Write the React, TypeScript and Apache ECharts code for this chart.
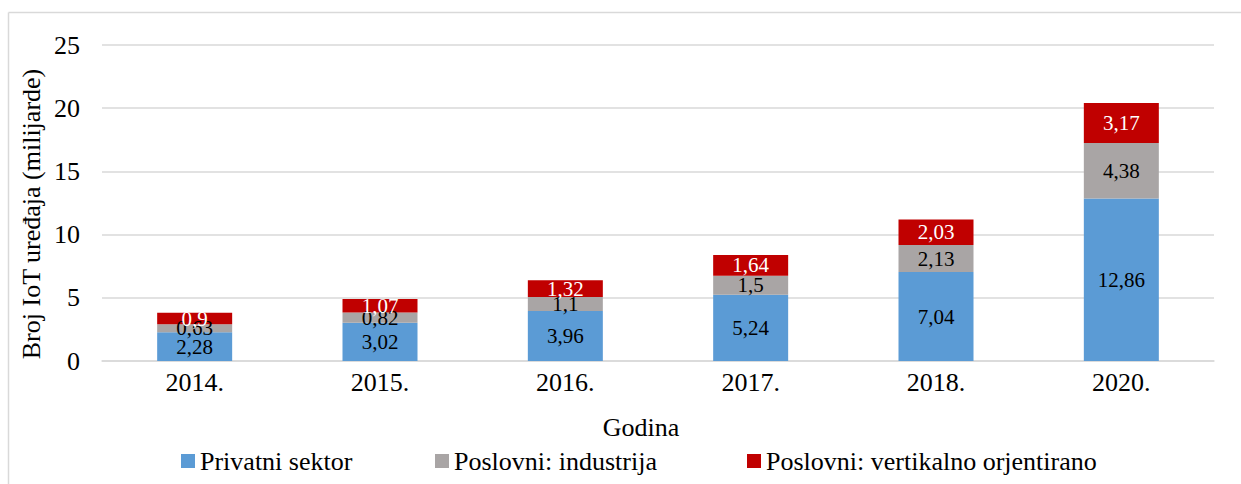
import React, { useEffect, useRef } from "react";
import * as echarts from "echarts";

const categories = ["2014.", "2015.", "2016.", "2017.", "2018.", "2020."];
const privatni = [2.28, 3.02, 3.96, 5.24, 7.04, 12.86];
const industrija = [0.63, 0.82, 1.1, 1.5, 2.13, 4.38];
const vertikalno = [0.9, 1.07, 1.32, 1.64, 2.03, 3.17];
const seriesNames = ["Privatni sektor", "Poslovni: industrija", "Poslovni: vertikalno orjentirano"];
const yTicks = { min: 0, max: 25, interval: 5 };

const FONT = "'Liberation Serif', 'Times New Roman', serif";
const fmt = (v: number) => String(v).replace(".", ",");

export default function App() {
  const ref = useRef<HTMLDivElement>(null);
  useEffect(() => {
    if (!ref.current) return;
    const chart = echarts.init(ref.current, null, { renderer: "svg" });
    const mkSeries = (name: string, data: number[], color: string, labelColor: string) => ({
      name,
      type: "bar",
      stack: "total",
      data,
      barWidth: 75,
      itemStyle: { color },
      label: {
        show: true,
        position: "inside",
        color: labelColor,
        fontFamily: FONT,
        fontSize: 21,
        formatter: (p: any) => fmt(p.value),
      },
    });
    const legendLefts = [176, 430, 742];
    const legends = seriesNames.map((n, i) => ({
      data: [n],
      left: legendLefts[i],
      top: 443,
      itemWidth: 14,
      itemHeight: 14,
      icon: "rect",
      textStyle: { color: "#000", fontFamily: FONT, fontSize: 26 },
    }));
    chart.setOption({
      animation: false,
      backgroundColor: "#ffffff",
      grid: { left: 102, right: 27, top: 45, bottom: 123, containLabel: false },
      xAxis: {
        type: "category",
        data: categories,
        axisLine: { show: true, lineStyle: { color: "#d9d9d9", width: 1.5 } },
        axisTick: { show: false },
        axisLabel: { color: "#000", fontFamily: FONT, fontSize: 26, margin: 8 },
      },
      yAxis: {
        type: "value",
        min: yTicks.min,
        max: yTicks.max,
        interval: yTicks.interval,
        axisLine: { show: false },
        axisTick: { show: false },
        axisLabel: { color: "#000", fontFamily: FONT, fontSize: 26, margin: 22 },
        splitLine: { lineStyle: { color: "#d9d9d9", width: 1.5 } },
      },
      legend: legends,
      graphic: [
        { type: "line", shape: { x1: 8.5, y1: 12.5, x2: 1241, y2: 12.5 }, style: { stroke: "#d9d9d9", lineWidth: 1.5 } },
        { type: "line", shape: { x1: 8.5, y1: 12.5, x2: 8.5, y2: 484 }, style: { stroke: "#d9d9d9", lineWidth: 1.5 } },
        {
          type: "text",
          x: 31,
          y: 214,
          rotation: Math.PI / 2,
          style: {
            text: "Broj IoT uređaja (milijarde)",
            fontFamily: FONT,
            fontSize: 26,
            fill: "#000",
            align: "center",
            verticalAlign: "middle",
          },
        },
        {
          type: "text",
          x: 641,
          y: 427,
          style: {
            text: "Godina",
            fontFamily: FONT,
            fontSize: 26,
            fill: "#000",
            align: "center",
            verticalAlign: "middle",
          },
        },
      ],
      series: [
        mkSeries(seriesNames[0], privatni, "#5b9bd5", "#000"),
        mkSeries(seriesNames[1], industrija, "#a9a5a5", "#000"),
        mkSeries(seriesNames[2], vertikalno, "#c00000", "#fff"),
      ],
    });
    return () => chart.dispose();
  }, []);
  return (
    <div
      ref={ref}
      style={{ position: "absolute", left: 0, top: 0, width: 1241, height: 484 }}
    />
  );
}
